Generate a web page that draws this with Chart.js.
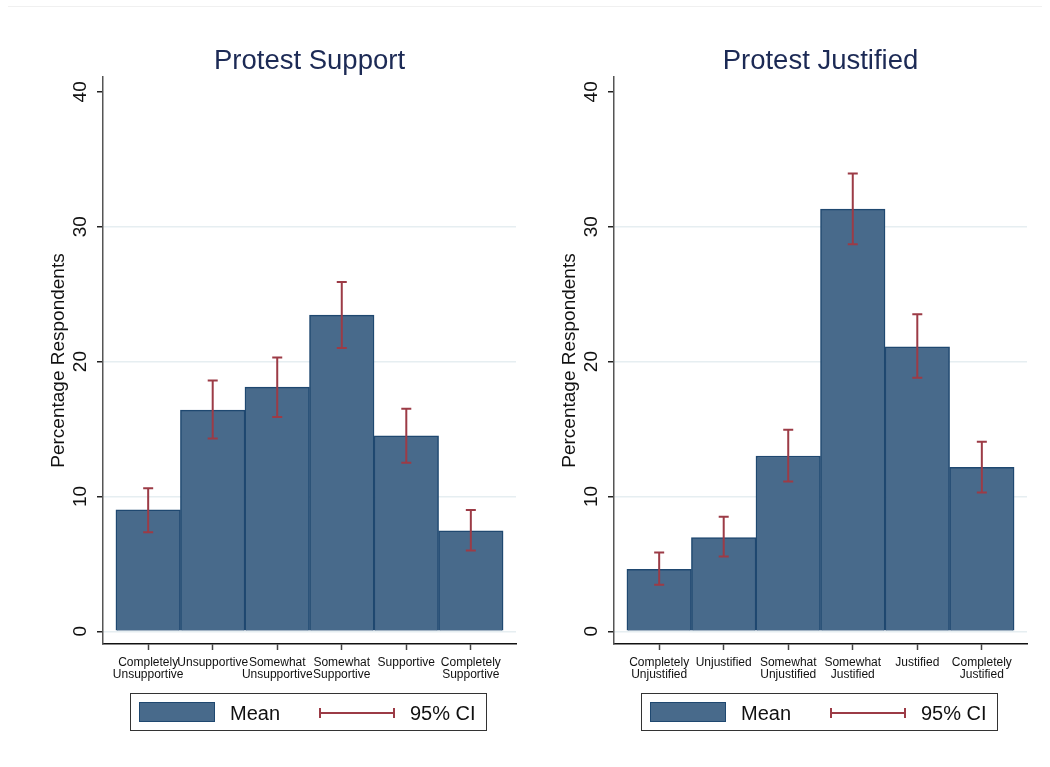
<!DOCTYPE html>
<html>
<head>
<meta charset="utf-8">
<script src="https://cdn.jsdelivr.net/npm/chart.js@4.4.0/dist/chart.umd.min.js"></script>
<style>
  body { margin: 0; background: #fff; font-family: "Liberation Sans", Arial, sans-serif; }
  #page { position: relative; width: 1050px; height: 767px; overflow: hidden; }
  .topline { position: absolute; left: 8px; right: 8px; top: 6px; height: 1px; background: #f0f0f0; }
  canvas { position: absolute; top: 0; }
  .title { position: absolute; top: 44px; width: 413px; text-align: center; font-size: 27.5px; color: #1c2a55; }
  .legend { position: absolute; top: 693px; width: 355px; height: 36px; border: 1.3px solid #333; box-sizing: content-box; }
  .legend .swatch { position: absolute; left: 8px; top: 8px; width: 74px; height: 18px; background: #486a8b; border: 1px solid #1f4870; }
  .legend .lbl { position: absolute; top: 7px; font-size: 20px; color: #111; line-height: 24px; }
  .legend .ci { position: absolute; left: 188px; top: 18px; width: 76px; height: 2px; background: #9c3b46; }
  .legend .ci:before, .legend .ci:after { content: ""; position: absolute; top: -4px; width: 2px; height: 10px; background: #9c3b46; }
  .legend .ci:before { left: 0; }
  .legend .ci:after { right: 0; }
</style>
</head>
<body>
<div id="page">
  <div class="topline"></div>
  <canvas id="supportChart" width="525" height="767" style="left:0"></canvas>
  <canvas id="justifiedChart" width="525" height="767" style="left:525px"></canvas>

  <div class="title" style="left:103px">Protest Support</div>
  <div class="title" style="left:614px">Protest Justified</div>

  <div class="legend" style="left:130px">
    <div class="swatch"></div><div class="lbl" style="left:99px">Mean</div>
    <div class="ci"></div><div class="lbl" style="left:279px">95% CI</div>
  </div>
  <div class="legend" style="left:641px">
    <div class="swatch"></div><div class="lbl" style="left:99px">Mean</div>
    <div class="ci"></div><div class="lbl" style="left:279px">95% CI</div>
  </div>
</div>

<script>
// categorias y valores de cada panel
var supportLabels = [['Completely', 'Unsupportive'], ['Unsupportive'], ['Somewhat', 'Unsupportive'],
                     ['Somewhat', 'Supportive'], ['Supportive'], ['Completely', 'Supportive']];
var supportMean = [9.0, 16.4, 18.1, 23.45, 14.5, 7.45];
var supportLow  = [7.35, 14.3, 15.9, 21.0, 12.5, 6.0];
var supportHigh = [10.6, 18.6, 20.3, 25.9, 16.5, 9.0];

var justifiedLabels = [['Completely', 'Unjustified'], ['Unjustified'], ['Somewhat', 'Unjustified'],
                       ['Somewhat', 'Justified'], ['Justified'], ['Completely', 'Justified']];
var justifiedMean = [4.6, 6.95, 13.0, 31.3, 21.1, 12.15];
var justifiedLow  = [3.45, 5.55, 11.1, 28.7, 18.8, 10.3];
var justifiedHigh = [5.85, 8.5, 14.95, 33.95, 23.5, 14.05];

var yTicks = [0, 10, 20, 30, 40];

var barFill = '#486a8b';
var barEdge = '#1f4870';
var ciColor = '#9c3b46';
var font = '"Liberation Sans", Arial, sans-serif';

// barras de error (IC 95%) sobre cada barra
var ciPlugin = {
    id: 'ciBars',
    afterDatasetsDraw: function(chart) {
        var ci = chart.options.plugins.ciBars;
        var xs = chart.scales.x, ys = chart.scales.y, ctx = chart.ctx;
        ctx.save();
        ctx.strokeStyle = ciColor;
        ctx.lineWidth = 2;
        for (var i = 0; i < ci.low.length; i++) {
            var x = xs.getPixelForValue(i);
            var y1 = ys.getPixelForValue(ci.low[i]);
            var y2 = ys.getPixelForValue(ci.high[i]);
            ctx.beginPath();
            ctx.moveTo(x, y1); ctx.lineTo(x, y2);
            ctx.moveTo(x - 5, y1); ctx.lineTo(x + 5, y1);
            ctx.moveTo(x - 5, y2); ctx.lineTo(x + 5, y2);
            ctx.stroke();
        }
        ctx.restore();
    },
    // etiquetas del eje y giradas 90 grados
    afterDraw: function(chart) {
        var ys = chart.scales.y, ctx = chart.ctx;
        ctx.save();
        ctx.fillStyle = '#111';
        ctx.font = '19px ' + font;
        ctx.textAlign = 'center';
        ctx.textBaseline = 'middle';
        yTicks.forEach(function(v) {
            ctx.save();
            ctx.translate(ys.right - 22, ys.getPixelForValue(v));
            ctx.rotate(-Math.PI / 2);
            ctx.fillText(String(v), 0, 0);
            ctx.restore();
        });
        ctx.restore();
    }
};

function makeChart(id, labels, mean, low, high, padLeft, padRight) {
    var ctx = document.getElementById(id).getContext('2d');
    return new Chart(ctx, {
        type: 'bar',
        data: {
            datasets: [{
                label: 'Mean',
                data: mean.map(function(v, i) { return { x: i, y: v }; }),
                backgroundColor: barFill,
                borderColor: barEdge,
                borderWidth: 1.5,
                barPercentage: 1,
                categoryPercentage: 1
            }]
        },
        options: {
            responsive: false,
            animation: false,
            devicePixelRatio: 1,
            layout: { padding: { left: padLeft, right: padRight, top: 77, bottom: 83 } },
            plugins: {
                legend: { display: false },
                tooltip: { enabled: false },
                ciBars: { low: low, high: high }
            },
            scales: {
                x: {
                    type: 'linear',
                    min: -0.7,
                    max: 5.7,
                    offset: false,
                    afterBuildTicks: function(s) { s.ticks = labels.map(function(l, i) { return { value: i }; }); },
                    afterFit: function(s) { s.height = 40; s.paddingLeft = 0; s.paddingRight = 0; },
                    border: { color: '#111', width: 1.5 },
                    grid: { offset: false, drawOnChartArea: false, drawTicks: true, tickLength: 6, tickColor: '#444', tickWidth: 1.5 },
                    ticks: {
                        autoSkip: false,
                        maxRotation: 0,
                        minRotation: 0,
                        padding: 7,
                        color: '#111',
                        font: { family: font, size: 12, lineHeight: 1.0 },
                        callback: function(v) { return labels[v]; }
                    }
                },
                y: {
                    min: -0.94,
                    max: 41.1,
                    afterBuildTicks: function(s) { s.ticks = yTicks.map(function(v) { return { value: v }; }); },
                    afterFit: function(s) { s.width = 60; },
                    border: { color: '#555', width: 1.5 },
                    grid: {
                        color: function(c) { return c.tick && c.tick.value === 40 ? 'rgba(0,0,0,0)' : '#e6eef1'; },
                        lineWidth: 1.5,
                        tickLength: 6,
                        tickColor: '#222',
                        tickWidth: 1.5
                    },
                    ticks: { display: false },
                    title: {
                        display: true,
                        text: 'Percentage Respondents',
                        color: '#111',
                        padding: { top: 4, bottom: 0 },
                        font: { family: font, size: 19 }
                    }
                }
            }
        },
        plugins: [ciPlugin]
    });
}

makeChart('supportChart', supportLabels, supportMean, supportLow, supportHigh, 43, 9);
makeChart('justifiedChart', justifiedLabels, justifiedMean, justifiedLow, justifiedHigh, 29, 23);
</script>
</body>
</html>
